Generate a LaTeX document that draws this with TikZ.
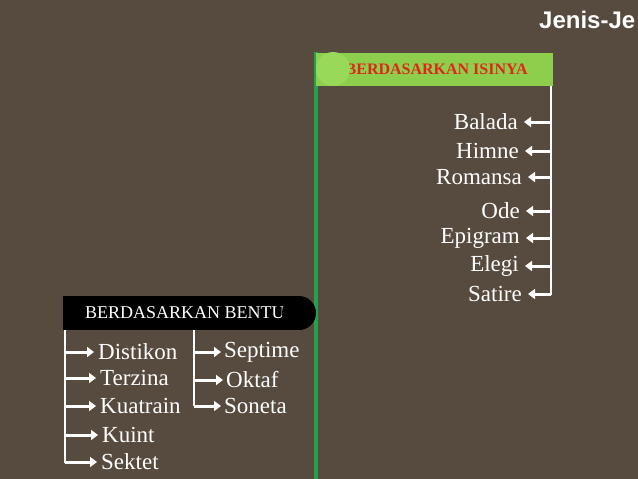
\documentclass[tikz,border=0pt]{standalone}
\usepackage{fontspec}
\setmainfont{Liberation Serif}
\setsansfont{Liberation Sans}
\usetikzlibrary{arrows.meta}
\definecolor{bg}{HTML}{574B3F}
\definecolor{gline}{HTML}{22A34B}
\definecolor{gbox}{HTML}{8DCF4C}
\definecolor{gcirc}{HTML}{98D95A}
\definecolor{hred}{HTML}{E0261B}
\tikzset{
  item/.style={text=white, font=\fontsize{23}{23}\selectfont, inner sep=0pt},
  itemR/.style={item, anchor=east},
  itemL/.style={item, anchor=west},
  warrow/.style={white, line width=3pt, -{Triangle[length=7pt,width=10pt]}},
  wline/.style={white, line width=2.4pt},
}
\begin{document}
\begin{tikzpicture}[x=1pt,y=-1pt]
\clip (0,0) rectangle (638,479);
\fill[bg] (0,0) rectangle (638,479);
\node[anchor=base west, text=white, font=\sffamily\bfseries\fontsize{24}{24}\selectfont, inner sep=0pt] (title) at (539,28) {Jenis-Je};
% green line & header
\draw[gline, line width=4pt] (316,52) -- (316,479);
\fill[gbox] (316,53) rectangle (553,86);
\node[anchor=east, text=hred, font=\bfseries\fontsize{16}{16}\selectfont, inner sep=0pt] (isi) at (528,69) {BERDASARKAN ISINYA};
\fill[gcirc] (333,69) circle (17);
% right tree
\coordinate (rtop) at (551,86);
\coordinate (rbot) at (551,295);
\draw[wline] (rtop) -- (rbot);
\foreach \n/\t/\y/\x in {a/Balada/122/518,b/Himne/151/519,c/Romansa/177/522,d/Ode/211/520,e/Epigram/238/520,f/Elegi/266/519,g/Satire/294/522}{
  \node[itemR] (r\n) at (\x,\y) {\t};
  \coordinate (rc\n) at (551,\y);
  \draw[warrow] (rc\n) -- ([xshift=6pt]rc\n -| r\n.east) ;
}
% black header
\fill[black] (63,296) rectangle (300,330);
\node[anchor=west, text=white, font=\fontsize{18}{18}\selectfont, inner sep=0pt] (bentuk) at (85,313) {BERDASARKAN BENTUK};
\fill[black] (299,313) circle (17);
% left tree 1
\coordinate (l1top) at (65,330);
\coordinate (l1bot) at (65,463);
\draw[wline] (l1top) -- (l1bot);
\foreach \n/\t/\y/\x in {a/Distikon/352/98,b/Terzina/378/100,c/Kuatrain/406/100,d/Kuint/435/102,e/Sektet/462/101}{
  \node[itemL] (l\n) at (\x,\y) {\t};
  \coordinate (lc\n) at (65,\y);
  \draw[warrow] (lc\n) -- ([xshift=-4pt]lc\n -| l\n.west);
}
% left tree 2
\coordinate (m1top) at (194,330);
\coordinate (m1bot) at (194,406);
\draw[wline] (m1top) -- (m1bot);
\foreach \n/\t/\y/\x in {a/Septime/352/224,b/Oktaf/380/226,c/Soneta/406/224}{
  \node[itemL] (m\n) at (\x,\y) {\t};
  \coordinate (mc\n) at (194,\y);
  \draw[warrow] (mc\n) -- ([xshift=-3pt]mc\n -| m\n.west);
}
\end{tikzpicture}
\end{document}
